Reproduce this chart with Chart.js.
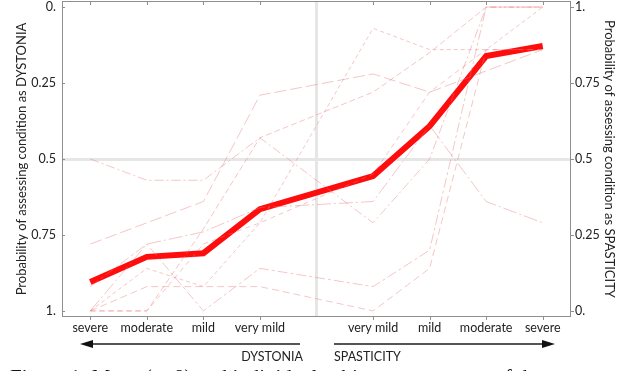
<!DOCTYPE html>
<html>
<head>
<meta charset="utf-8">
<script src="https://cdn.jsdelivr.net/npm/chart.js@4.4.1/dist/chart.umd.min.js"></script>
<style>
  html, body { margin: 0; padding: 0; background: #fff; overflow: hidden; }
  #wrap { position: relative; width: 636px; height: 371px; }
  #chart { position: absolute; left: 0; top: 0; }
  .lab { position: absolute; font: 12.5px Lato, sans-serif; color: #222; }
  #caption { position: absolute; left: 10px; top: 365px; font: 21px "Liberation Serif", serif; color: #111; white-space: nowrap; }
</style>
</head>
<body>
<div id="wrap">
  <canvas id="chart" width="636" height="340"></canvas>
  <svg width="636" height="371" style="position:absolute;left:0;top:0">
    <line x1="90" y1="344" x2="300" y2="344" stroke="#555" stroke-width="2"/>
    <polygon points="80,344 93,340 93,348" fill="#111"/>
    <line x1="334" y1="344" x2="544" y2="344" stroke="#555" stroke-width="2"/>
    <polygon points="555,344 542,340 542,348" fill="#111"/>
  </svg>
  <div class="lab" style="right:333px; top:349px;">DYSTONIA</div>
  <div class="lab" style="left:334px; top:349px;">SPASTICITY</div>
  <div id="caption">Figure 1: Mean (n=8) and individual subject assessments of the</div>
</div>
<script>
// categories (middle slot is the gap between the two scales)
const categories = ['severe', 'moderate', 'mild', 'very mild', '', 'very mild', 'mild', 'moderate', 'severe'];

// mean probability of assessing as SPASTICITY (right axis)
const meanValues = [0.095, 0.178, 0.19, 0.335, null, 0.444, 0.608, 0.839, 0.872];

// individual subjects (rough)
const subject1 = [0.00, 0.00, 0.27, 0.57, null, 0.72, 0.85, 1.00, 1.00];
const subject2 = [0.50, 0.43, 0.43, 0.57, null, 0.29, 0.50, 1.00, 1.00];
const subject3 = [0.22, 0.29, 0.36, 0.71, null, 0.78, 0.72, 0.79, 0.86];
const subject4 = [0.00, 0.14, 0.08, 0.29, null, 0.93, 0.86, 0.86, 1.00];
const subject5 = [0.08, 0.22, 0.00, 0.14, null, 0.08, 0.20, 1.00, 1.00];
const subject6 = [0.00, 0.08, 0.08, 0.08, null, 0.00, 0.14, 0.86, 0.86];
const subject7 = [0.00, 0.22, 0.26, 0.34, null, 0.36, 0.61, 0.36, 0.29];
const subject8 = [0.00, 0.00, 0.22, 0.29, null, 0.45, 0.72, 0.86, 0.86];
const subjects = [subject1, subject2, subject3, subject4, subject5, subject6, subject7, subject8];

// tick values and labels
const tickValues = [0, 0.25, 0.5, 0.75, 1];
const leftTickLabels = ['0.', '0.25', '0.5', '0.75', '1.'];
const rightTickLabels = ['0.', '0.25', '0.5', '0.75', '1.'];

const dashes = [[6, 3], [9, 3, 2, 3], [12, 4], [4, 3], [10, 3, 3, 3], [7, 4], [14, 3, 2, 3], [5, 4]];
const faint = 'rgba(232, 120, 120, 0.42)';
const refGray = '#e6e6e6';
const frameGray = '#8f8f8f';
const tickFont = { family: 'Lato, sans-serif', size: 12.5 };
const titleFont = { family: 'Lato, sans-serif', size: 13 };

const datasets = subjects.map((s, i) => ({
  data: s,
  yAxisID: 'yR',
  borderColor: faint,
  borderWidth: 1,
  borderDash: dashes[i],
  pointRadius: 0,
  spanGaps: true,
  tension: 0
}));
datasets.push({
  data: meanValues,
  yAxisID: 'yR',
  borderColor: '#ff0d0d',
  borderWidth: 6,
  pointRadius: 0,
  spanGaps: true,
  tension: 0
});

// frame round the plot plus small tick marks
const framePlugin = {
  id: 'frame',
  afterDatasetsDraw(chart) {
    const { ctx, chartArea: a, scales } = chart;
    ctx.save();
    ctx.strokeStyle = frameGray;
    ctx.lineWidth = 1;
    ctx.strokeRect(a.left + 0.5, a.top + 0.5, a.right - a.left - 1, a.bottom - a.top - 1);
    ctx.beginPath();
    scales.x.ticks.forEach((t, i) => {
      if (!categories[i]) return;
      const x = Math.round(scales.x.getPixelForTick(i)) + 0.5;
      ctx.moveTo(x, a.top); ctx.lineTo(x, a.top + 4);
      ctx.moveTo(x, a.bottom); ctx.lineTo(x, a.bottom + 3);
    });
    tickValues.forEach(v => {
      const y = Math.round(scales.yR.getPixelForValue(v)) + 0.5;
      ctx.moveTo(a.left, y); ctx.lineTo(a.left + 3, y);
      ctx.moveTo(a.right, y); ctx.lineTo(a.right + 3, y);
    });
    ctx.stroke();
    ctx.restore();
  }
};

function noPad(s) {
  s.paddingTop = 0; s.paddingBottom = 0; s.paddingLeft = 0; s.paddingRight = 0;
}

new Chart(document.getElementById('chart'), {
  type: 'line',
  data: { labels: categories, datasets: datasets },
  options: {
    responsive: false,
    animation: false,
    events: [],
    layout: { padding: { left: 10, right: 15, top: 1, bottom: 0 } },
    plugins: { legend: { display: false }, tooltip: { enabled: false } },
    scales: {
      x: {
        type: 'category',
        offset: true,
        border: { display: false },
        grid: {
          color: c => c.index === 4 ? refGray : 'transparent',
          lineWidth: 3,
          drawTicks: false
        },
        ticks: { color: '#222', font: tickFont, padding: 3, maxRotation: 0, autoSkip: false },
        afterFit(s) { s.height = 23; noPad(s); }
      },
      y: {
        position: 'left',
        reverse: true,
        min: -0.02,
        max: 1.02,
        afterBuildTicks(s) { s.ticks = tickValues.map(v => ({ value: v })); },
        border: { display: false },
        grid: {
          color: c => (c.tick && c.tick.value === 0.5) ? refGray : 'transparent',
          lineWidth: 3,
          drawTicks: false
        },
        ticks: { color: '#222', font: tickFont, padding: 6, callback: (v, i) => leftTickLabels[i] },
        title: { display: true, text: 'Probability of assessing condition as DYSTONIA', color: '#222', font: titleFont, padding: 4 },
        afterFit(s) { s.width = 52; noPad(s); }
      },
      yR: {
        position: 'right',
        min: -0.02,
        max: 1.02,
        afterBuildTicks(s) { s.ticks = tickValues.map(v => ({ value: v })); },
        border: { display: false },
        grid: { display: false, drawTicks: false },
        ticks: { color: '#222', font: tickFont, padding: 4, callback: (v, i) => rightTickLabels[i] },
        title: { display: true, text: 'Probability of assessing condition as SPASTICITY', color: '#222', font: titleFont, padding: 4 },
        afterFit(s) { s.width = 50; noPad(s); }
      }
    }
  },
  plugins: [framePlugin]
});
</script>
</body>
</html>
